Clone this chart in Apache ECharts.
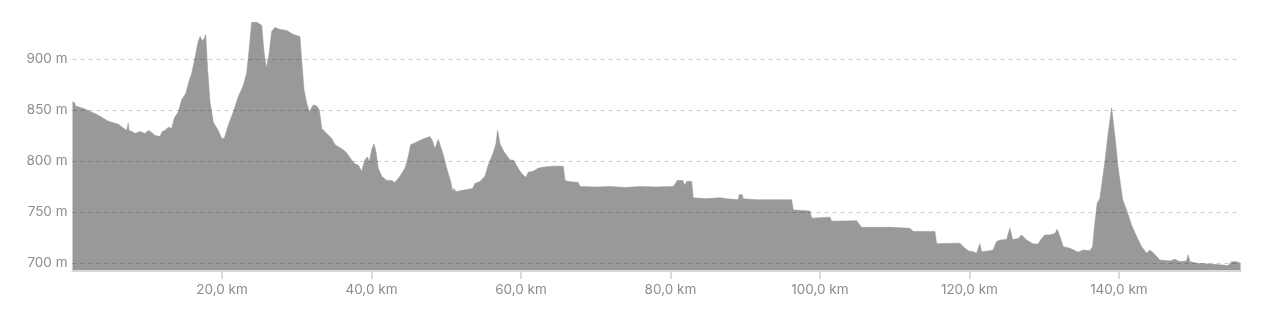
<!DOCTYPE html>
<html>
<head>
<meta charset="utf-8">
<style>
html,body{margin:0;padding:0;background:#fff;}
#chart{width:1280px;height:318px;}
</style>
<script src="https://cdn.jsdelivr.net/npm/echarts@6/dist/echarts.min.js"></script>
</head>
<body>
<div id="chart"></div>
<script>
const distanceKm = [0,0.3,0.4,1.67,3.45,4.79,6.13,7.25,7.4,7.46,7.55,7.92,8.36,9.03,9.7,10.14,10.6,11.04,11.71,12.01,12.37,12.82,13.27,13.62,14.15,14.61,15.14,15.59,15.95,16.39,16.75,17.06,17.36,17.63,17.82,18.09,18.39,18.84,19.5,19.96,20.31,20.84,21.51,22.18,22.85,23.3,23.61,23.97,24.64,25.31,25.62,25.93,26.29,26.65,27.09,27.76,28.66,29.54,30.43,30.66,30.97,31.33,31.68,32.21,32.67,33.02,33.34,34.01,34.68,35.12,35.79,36.23,36.68,37.35,37.79,38.23,38.69,39.13,39.44,39.71,40.03,40.33,40.6,40.91,41.37,42.03,42.7,43.14,43.81,44.48,44.92,45.24,45.59,46.72,47.83,48.19,48.49,48.94,49.61,50.06,50.6,50.86,51.04,51.3,52.07,52.74,53.54,53.85,54.52,55.18,55.63,56.29,56.66,56.88,57.19,57.73,58.53,58.97,59.87,60.31,60.67,60.98,61.65,62.31,62.98,64.32,65.66,65.89,66.33,67.67,67.89,70,72,74,76,78,80.33,80.6,80.91,81.63,81.94,82.17,82.84,83.05,84.84,86.62,87.52,89.07,89.2,89.6,89.74,91.53,94,96.21,96.43,98.66,98.89,101.34,101.57,104.91,105.58,109.36,112.04,112.48,115.38,115.61,118.73,119.17,119.84,120.51,120.96,121.4,121.63,122.74,123.18,123.64,124.08,124.98,125.42,125.78,126.53,126.98,127.65,128.53,129.2,129.66,130.1,130.77,131.44,131.75,132.11,132.55,133.44,134.56,135.23,136.12,136.48,136.79,137.1,137.46,138.13,138.57,139.03,139.47,139.91,140.5,141.03,141.7,142.37,143.04,143.71,144.15,144.59,145.48,146.82,147.49,148.16,149.05,149.27,149.5,150.39,152.17,153.95,154.61,155.08,155.75,156.28];
const elevationM = [858,857,854,851,845,839,836,830,831,837,830,829,827,829,827,830,828,825,824,829,830,833,832,842,848,860,866,878,886,901,915,922,918,920,924,888,858,838,830,822,822,835,848,863,874,886,907,936,936,933,907,891,904,927,931,929,928,924,922,899,870,857,848,855,854,850,832,827,822,816,813,811,808,801,797,796,790,801,804,799,811,817,809,793,785,781,781,779,785,793,804,816,817,821,824,819,812,821,806,793,780,770,773,770,771,772,773,778,780,785,796,808,817,830,817,809,801,801,790,786,784,789,790,793,794,795,795,781,780,779,775,774.5,775,774,775,774.5,775,777,781,781,776,780,780,764,763,764,763,762,767,767,763,762,762,762,752,751,744,745,741,741.5,735,735,734,731,731,719,719.5,716,712,711,709.6,719,711,712,713,721,722.6,723,734,723,724,727.5,722.6,718.7,718.7,724,727.5,727.5,729,733,726,716,714.5,710.6,712.7,712,716,739,758.5,763.5,799,827,852,824,793,762,752,737,726,716,709.6,712.7,710,703,702,703.7,701.3,702,708,701.3,699.8,699,698,697.3,701.3,701.3,699.8];
const xAxisMax = 156.3;
const yAxisMin = 692.2;
const yAxisMax = 936.3;

const points = distanceKm.map((d, i) => [d, elevationM[i]]);
const font = 'Inter, "Liberation Sans", Arial, sans-serif';

const chart = echarts.init(document.getElementById('chart'), null, {renderer: 'canvas'});
chart.setOption({
  animation: false,
  backgroundColor: '#ffffff',
  grid: {left: 72.5, right: 39.3, top: 22, bottom: 47, containLabel: false},
  xAxis: {
    type: 'value',
    min: 0,
    max: xAxisMax,
    interval: 20,
    z: 5,
    axisLine: {show: true, lineStyle: {color: '#d8d8d8', width: 2}},
    axisTick: {show: true, length: 8, lineStyle: {color: '#d0d0d0', width: 1.5}},
    splitLine: {show: false},
    axisLabel: {
      showMinLabel: false,
      showMaxLabel: false,
      margin: 12,
      color: '#8c8c8c',
      fontSize: 13.5,
      fontFamily: font,
      formatter: v => v.toFixed(1).replace('.', ',') + ' km'
    }
  },
  yAxis: {
    type: 'value',
    min: yAxisMin,
    max: yAxisMax,
    splitNumber: 5,
    z: 5,
    axisLine: {show: false},
    axisTick: {show: false},
    splitLine: {
      show: true,
      showMinLine: false,
      showMaxLine: false,
      lineStyle: {color: 'rgba(0,0,0,0.2)', type: [4, 4], width: 1}
    },
    axisLabel: {
      showMinLabel: false,
      showMaxLabel: false,
      margin: 5,
      color: '#8c8c8c',
      fontSize: 13.5,
      fontFamily: font,
      formatter: v => v + ' m'
    }
  },
  series: [{
    type: 'line',
    data: points,
    showSymbol: false,
    symbol: 'none',
    smooth: false,
    lineStyle: {width: 0.6, color: '#999999'},
    areaStyle: {color: '#999999', opacity: 1, origin: 'start'},
    z: 2
  }]
});
</script>
</body>
</html>
